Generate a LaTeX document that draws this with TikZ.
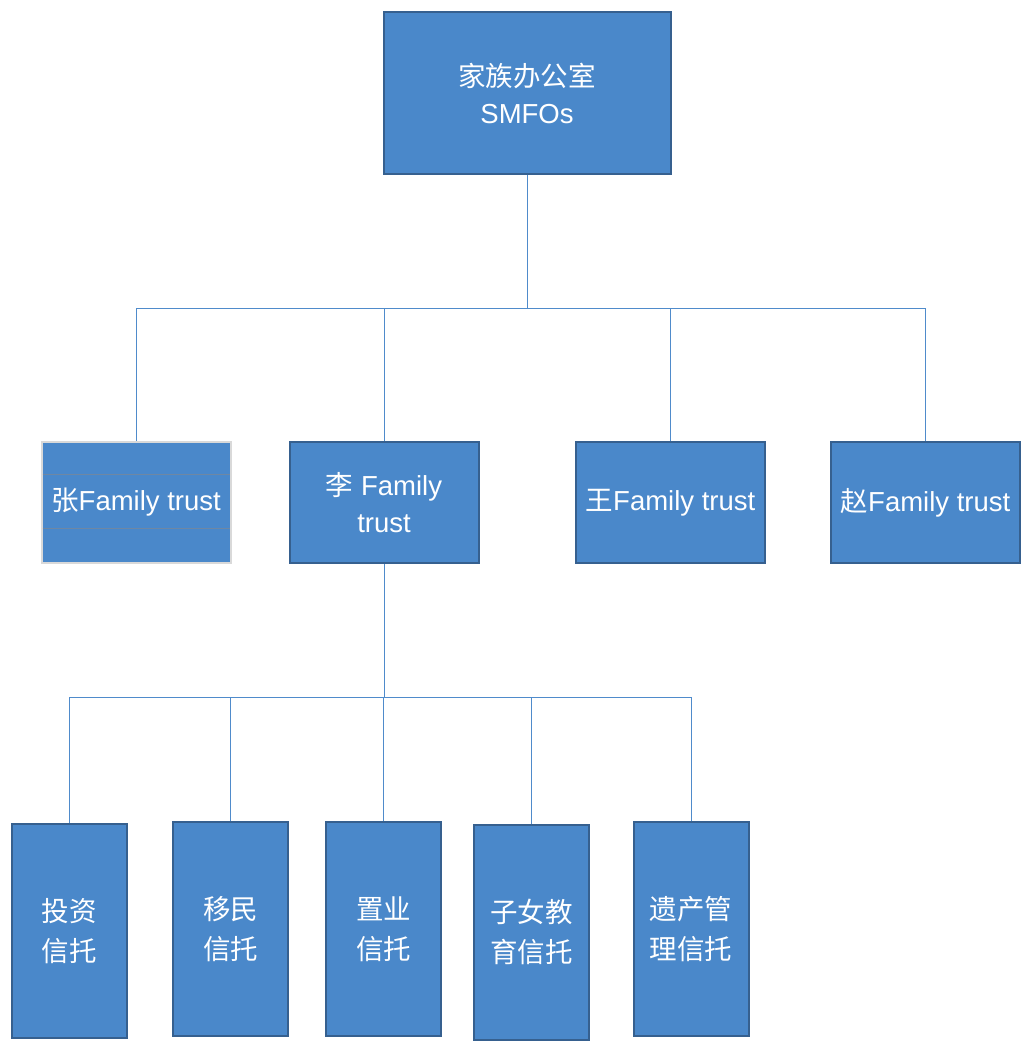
\documentclass[tikz,border=0pt]{standalone}
\usepackage{fontspec}
\setmainfont{Liberation Sans}
\newfontfamily\cjk{Noto Sans CJK SC}
\usetikzlibrary{calc,positioning}
\definecolor{BoxBlue}{HTML}{4A88CA}
\definecolor{BoxEdge}{HTML}{36608F}
\definecolor{Wire}{HTML}{4F8BCB}
\definecolor{ZhangEdge}{HTML}{D9D9D9}
\definecolor{ZhangRule}{HTML}{6E87A3}

\begin{document}
\begin{tikzpicture}[x=1pt,y=-1pt,
  box/.style={draw=BoxEdge,line width=2pt,fill=BoxBlue,text=white,align=center,
    inner sep=0pt,font=\fontsize{27.5}{37}\selectfont},
  trust/.style={box,minimum width=189pt,minimum height=121pt},
  plan/.style={box,minimum width=115pt,minimum height=214pt,font=\fontsize{27.5}{40}\selectfont\cjk},
  wire/.style={draw=Wire,line width=1pt},
  zrule/.style={ZhangRule,line width=1.2pt,shorten <=2pt,shorten >=2pt}]
\useasboundingbox (0,0) rectangle (1034,1052);

% Bus heights, px
\pgfmathsetmacro{\busA}{308}
\pgfmathsetmacro{\busB}{697}
\coordinate (busA) at (0,\busA);
\coordinate (busB) at (0,\busB);

% Family office
\node[box,minimum width=287pt,minimum height=162pt] (office) at (527,93)
  {{\cjk 家族办公室}\\SMFOs};

% Family trusts
\node[trust,draw=ZhangEdge] (zhang) at (136,502) {{\cjk 张}Family trust};
\draw[zrule] ([yshift=-34pt]zhang.north west) -- ([yshift=-34pt]zhang.north east);
\draw[zrule] ([yshift=-88pt]zhang.north west) -- ([yshift=-88pt]zhang.north east);
\node[trust] (li) at (384,502.5) {{\cjk 李} Family\\trust};
\node[trust] (wang) at (670.5,502.5) {{\cjk 王}Family trust};
\node[trust] (zhao) at (925.5,502.5) {{\cjk 赵}Family trust};

\draw[wire] (office.south) -- (office.south |- busA);
\foreach \n in {zhang,li,wang,zhao}
  \draw[wire] (office.south |- busA) -| (\n.north);

% Li family plans
\node[plan] (invest) at (69,931) {投资\\信托};
\node[plan] (migrate) at (230.5,929) {移民\\信托};
\node[plan] (estate) at (383.5,929) {置业\\信托};
\node[plan,minimum height=215pt] (school) at (531.5,932) {子女教\\育信托};
\node[plan] (legacy) at (691,929) {遗产管\\理信托};

\draw[wire] (li.south) -- (li.south |- busB);
\foreach \n in {invest,migrate,estate,school,legacy}
  \draw[wire] (li.south |- busB) -| (\n.north);
\end{tikzpicture}
\end{document}
